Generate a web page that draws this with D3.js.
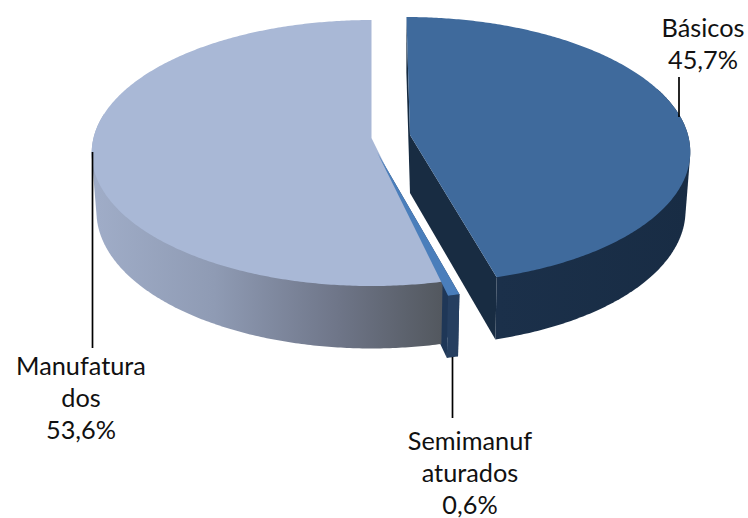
<!DOCTYPE html>
<html>
<head>
<meta charset="utf-8">
<script src="https://cdn.jsdelivr.net/npm/d3@7"></script>
<style>
    html, body { margin: 0; padding: 0; background: #fff; }
    text { font-family: Lato, "Open Sans", sans-serif; font-size: 25.3px; fill: #111; }
</style>
</head>
<body>
<svg id="canvas" width="748" height="518"></svg>
<script>
// chart data
const categories = ["Básicos", "Semimanufaturados", "Manufaturados"];
const shares = [45.7, 0.6, 53.6];
// the labels wrap mid word in the original chart
const labelLines = [["Básicos"], ["Semimanuf", "aturados"], ["Manufatura", "dos"]];

// how each slice sits on the page (exploded pie)
const apexX = [410, 377, 371.5];
const apexY = [135, 152, 138];
const leanX = [0.03, 0, 0];
const labelX = [703, 470, 81];
const labelY = [37, 450, 375];
const leaderX = [679, 452.5, 92.5];
const leaderY = [[77, 117], [357, 418], [152, 348]];

const topColors = ["#3f6a9c", "#4a7ebb", "#a9b8d6"];

// pie projection
const rx = 278;
const ry = 131.3;
const tilt = 0.113;
const depth = 58;
const bottomX = 0.983;
const bottomY = 1.03;
const lineH = 32;

let canvas = d3.select("#canvas");
const pct = d3.formatLocale({ decimal: ",", thousands: ".", grouping: [3], currency: ["", ""] }).format(".1f");

let arcs = d3.pie().sort(null).startAngle(0).endAngle(2 * Math.PI)(shares);

// disc point for pie angle t, level 0 = top face, 1 = bottom face
let project = (i, t, level) => {
    let a = Math.sin(t);
    let b = -Math.cos(t);
    let w = 1 - tilt * b;
    let sx = level ? bottomX : 1;
    let sy = level ? bottomY : 1;
    let py = ry * sy * b / w;
    return [apexX[i] + rx * sx * a / w + leanX[i] * py, apexY[i] + (level ? depth : 0) + py];
};

let outline = (i, t0, t1, level) => {
    let n = Math.max(2, Math.ceil(Math.abs(t1 - t0) / 0.01));
    return d3.range(n + 1).map((k) => project(i, t0 + (t1 - t0) * k / n, level));
};

let toPath = (pts) => "M" + pts.map((p) => p[0].toFixed(2) + "," + p[1].toFixed(2)).join("L") + "Z";

let wedge = (i) => {
    let arc = arcs[i];
    return [[apexX[i], apexY[i]]].concat(outline(i, arc.startAngle, arc.endAngle, 0));
};

// side wall of the rim between two angles
let rim = (i, t0, t1) => d3.polygonHull(outline(i, t0, t1, 0).concat(outline(i, t0, t1, 1)));

// straight cut wall from the apex out to the rim at angle t
let cutWall = (i, t) => {
    let p0 = project(i, t, 0);
    let p1 = project(i, t, 1);
    return [[apexX[i], apexY[i]], p0, p1, [apexX[i], apexY[i] + depth]];
};

let addPath = (pts, fill) => canvas.append("path").attr("d", toPath(pts)).attr("fill", fill);

// gradients for the rims
let defs = canvas.append("defs");
let addGradient = (id, x1, x2, stops) => {
    let g = defs.append("linearGradient").attr("id", id)
        .attr("gradientUnits", "userSpaceOnUse")
        .attr("x1", x1).attr("x2", x2).attr("y1", 0).attr("y2", 0);
    stops.forEach((s) => g.append("stop").attr("offset", s[0]).attr("stop-color", s[1]));
};
addGradient("rimManuf", 92, 441, [[0, "#a0adc8"], [0.35, "#8f9bb4"], [0.7, "#6f7689"], [1, "#53585f"]]);
addGradient("rimBasic", 498, 690, [[0, "#1b304a"], [1, "#182c44"]]);

// Básicos
addPath(cutWall(0, arcs[0].startAngle), "#152a40");
addPath(cutWall(0, arcs[0].endAngle), "#182c42");
addPath(rim(0, 1.2, arcs[0].endAngle), "url(#rimBasic)");
addPath(wedge(0), topColors[0]);

// Semimanufaturados walls go behind the big slice
addPath(cutWall(1, arcs[1].startAngle), "#263f60");
addPath(cutWall(1, arcs[1].endAngle), "#1f3757");
addPath(rim(1, arcs[1].startAngle, arcs[1].endAngle), "#263f60");

// Manufaturados
addPath(rim(2, arcs[2].startAngle, 4.9), "url(#rimManuf)");
addPath(wedge(2), topColors[2]);

// Semimanufaturados top
addPath(wedge(1), topColors[1]);

// leader lines
canvas.selectAll("line.leader")
    .data(categories)
    .enter()
    .append("line")
    .attr("class", "leader")
    .attr("x1", (d, i) => leaderX[i])
    .attr("x2", (d, i) => leaderX[i])
    .attr("y1", (d, i) => leaderY[i][0])
    .attr("y2", (d, i) => leaderY[i][1])
    .attr("stroke", "#000")
    .attr("stroke-width", 1.7);

// labels
categories.forEach((c, i) => {
    let lines = labelLines[i].concat([pct(shares[i]) + "%"]);
    canvas.append("text")
        .attr("text-anchor", "middle")
        .selectAll("tspan")
        .data(lines)
        .enter()
        .append("tspan")
        .attr("x", labelX[i])
        .attr("y", (d, k) => labelY[i] + k * lineH)
        .text((d) => d);
});
</script>
</body>
</html>
